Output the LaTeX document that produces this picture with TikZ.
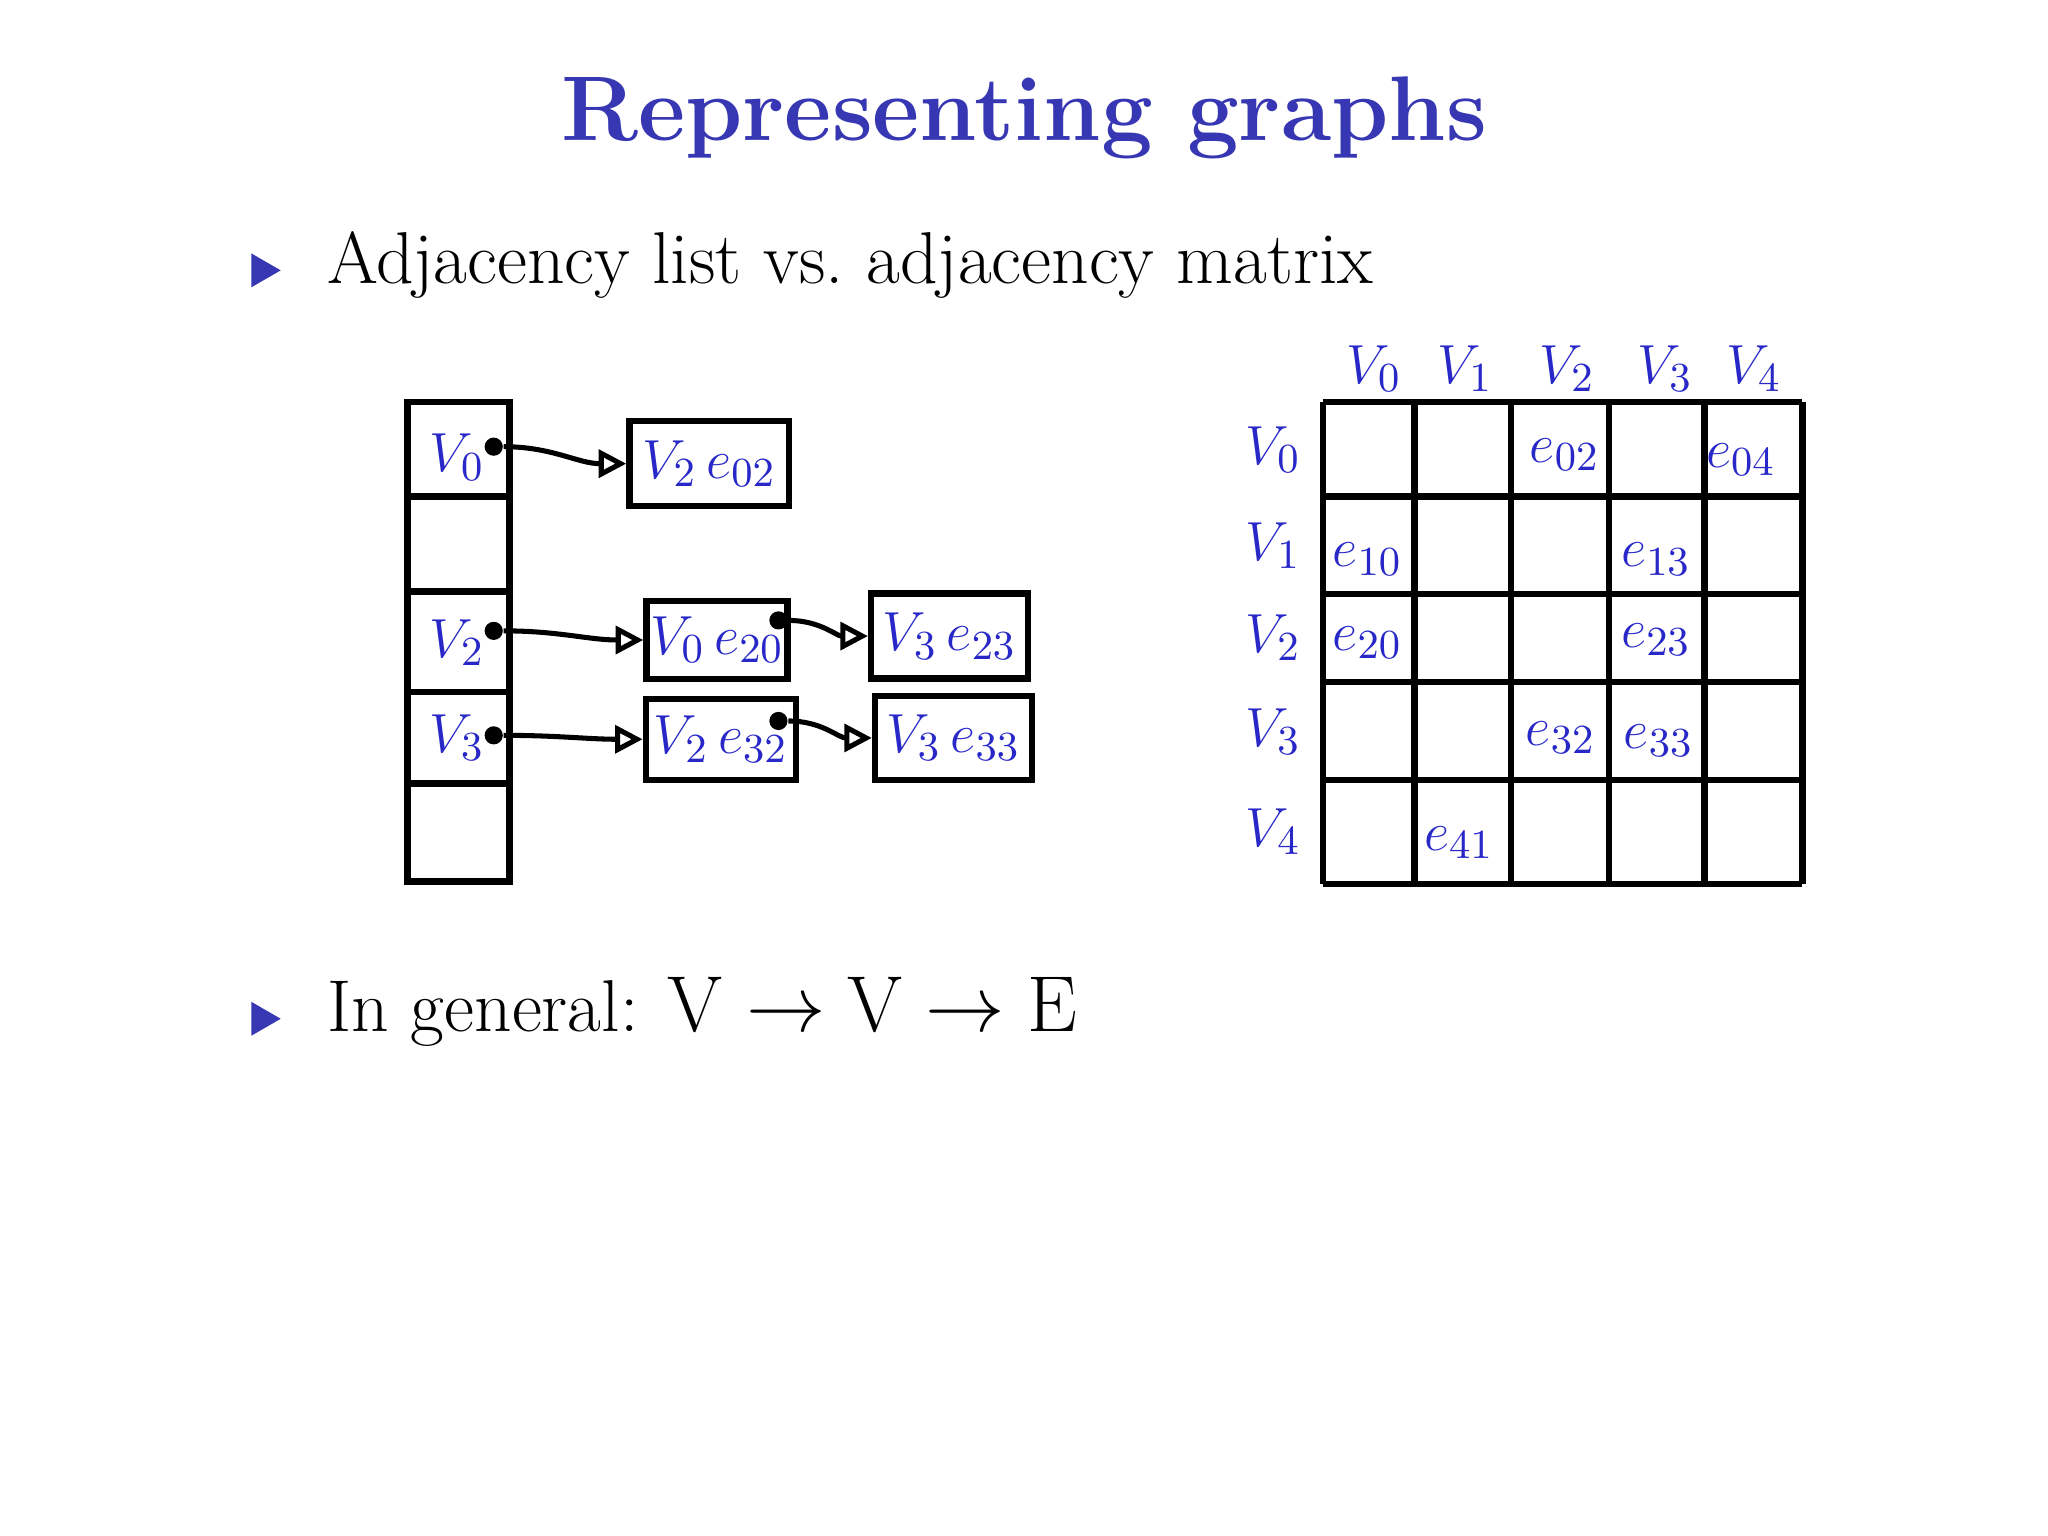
\documentclass[tikz,border=0pt]{standalone}
\usetikzlibrary{arrows.meta,shapes.geometric}
\definecolor{ttl}{RGB}{55,55,180}
\definecolor{hb}{RGB}{40,40,200}
\begin{document}
\begin{tikzpicture}[x=0.01cm,y=-0.01cm,
  cell/.style={draw,line width=1.4pt},
  hw/.style={text=hb,font=\fontsize{12.5}{12.5}\selectfont},
  bx/.style={draw,line width=1.4pt,inner sep=0pt,text=hb,font=\fontsize{12.5}{12.5}\selectfont},
  lnk/.style={line width=1.1pt,-{Triangle[open,length=6pt,width=6pt]}},
  dotc/.style={circle,fill,inner sep=1.4pt}]
\useasboundingbox (0,0) rectangle (1568,1176);
\node[text=ttl,font=\bfseries\fontsize{20}{20}\selectfont] (title) at (784,90) {Representing graphs};
\node[fill=ttl,regular polygon,regular polygon sides=3,shape border rotate=-90,inner sep=1.5pt] (b1) at (200,207) {};
\node[anchor=west,font=\fontsize{16}{16}\selectfont] (t1) at (238,203) {Adjacency list vs.\ adjacency matrix};
\node[fill=ttl,regular polygon,regular polygon sides=3,shape border rotate=-90,inner sep=1.5pt] (b2) at (200,780) {};
\node[anchor=west,font=\fontsize{16}{16}\selectfont] (t2) at (238,775) {In general: $\mathrm{V}\rightarrow\mathrm{V}\rightarrow\mathrm{E}$};
% list column
\foreach \ya/\yb in {308/380,380/453,453/530,530/600,600/675}
  \draw[cell] (312,\ya) rectangle (390,\yb);
\node[hw] (l0) at (350,350) {$V_0$};
\node[hw] (l2) at (350,492) {$V_2$};
\node[hw] (l3) at (350,565) {$V_3$};
\node[dotc] (d0) at (378,342) {};
\node[dotc] (d2) at (378,483) {};
\node[dotc] (d3) at (378,563) {};
\node[bx,minimum width=1.22cm,minimum height=0.65cm] (a) at (543,355) {$V_2\,e_{02}$};
\node[bx,minimum width=1.08cm,minimum height=0.6cm] (b) at (549,490) {$V_0\,e_{20}$};
\node[bx,minimum width=1.2cm,minimum height=0.65cm] (c) at (727,487) {$V_3\,e_{23}$};
\node[bx,minimum width=1.15cm,minimum height=0.62cm] (d) at (552,566) {$V_2\,e_{32}$};
\node[bx,minimum width=1.2cm,minimum height=0.64cm] (e) at (730,565) {$V_3\,e_{33}$};
\node[dotc] (db) at (596,475) {};
\node[dotc] (dd) at (596,552) {};
\draw[lnk] (d0) to[out=0,in=180] (a.west);
\draw[lnk] (d2) to[out=0,in=180] (b.west);
\draw[lnk] (d3) to[out=0,in=180] (d.west);
\draw[lnk] (db) to[out=0,in=180] (c.west);
\draw[lnk] (dd) to[out=0,in=180] (e.west);
% matrix grid
\foreach \x in {1013,1083,1157,1232,1305,1380}
  \draw[line width=1.4pt] (\x,308) -- (\x,677);
\foreach \y in {308,380,455,522,597,677}
  \draw[line width=1.4pt] (1013,\y) -- (1380,\y);
\foreach \i/\xc/\yc in {0/1052/344,1/1122/418,2/1200/488,3/1275/560,4/1343/637}{
  \node[hw] (c\i) at (\xc,282) {$V_\i$};
  \node[hw] (r\i) at (975,\yc) {$V_\i$};
}
\node[hw] (m02) at (1198,348) {$e_{02}$};
\node[hw] (m04) at (1333,352) {$e_{04}$};
\node[hw] (m10) at (1047,428) {$e_{10}$};
\node[hw] (m13) at (1268,428) {$e_{13}$};
\node[hw] (m20) at (1047,492) {$e_{20}$};
\node[hw] (m23) at (1268,490) {$e_{23}$};
\node[hw] (m32) at (1195,565) {$e_{32}$};
\node[hw] (m33) at (1270,567) {$e_{33}$};
\node[hw] (m41) at (1117,645) {$e_{41}$};
\end{tikzpicture}
\end{document}
